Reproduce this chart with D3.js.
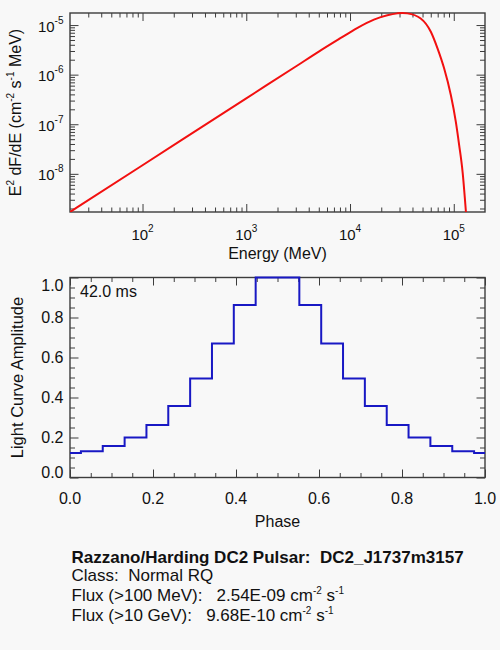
<!DOCTYPE html>
<html>
<head>
<meta charset="utf-8">
<script src="https://cdn.jsdelivr.net/npm/d3@7"></script>
<style>
  body { margin: 0; background: #f8f8f8; }
  svg { display: block; }
  text { font-family: "Liberation Sans", Arial, Helvetica, sans-serif; fill: #111; }
</style>
</head>
<body>
<svg id="chart" width="500" height="650"></svg>
<script>
// spectrum (energy in MeV, E^2 dF/dE)
var specEnergy = [20, 100, 1000, 3000, 5000, 8000, 11700, 17000, 22900, 28600, 32000, 35700,
                  48000, 60100, 69700, 80700, 93700, 104700, 112700, 121600, 131000];
var specFlux = [1.70e-9, 1.49e-8, 3.33e-7, 1.46e-6, 2.92e-6, 5.37e-6, 8.71e-6, 1.29e-5, 1.58e-5, 1.72e-5, 1.75e-5, 1.72e-5,
                1.36e-5, 7.33e-6, 3.39e-6, 1.34e-6, 3.88e-7, 1.12e-7, 3.81e-8, 1.10e-8, 1.70e-9];
var energyTicks = [100, 1000, 10000, 100000];
var fluxTicks = [1e-8, 1e-7, 1e-6, 1e-5];

// light curve histogram (bin edges in phase, amplitude per bin)
var phaseEdges = [0, 0.0263, 0.0789, 0.1316, 0.1842, 0.2368, 0.2895, 0.3421, 0.3947, 0.4474, 0.5,
                  0.5526, 0.6053, 0.6579, 0.7105, 0.7632, 0.8158, 0.8684, 0.9211, 0.9737, 1.0];
var amplitude = [0.123, 0.131, 0.158, 0.200, 0.263, 0.358, 0.495, 0.670, 0.862, 1.0,
                 1.0, 0.862, 0.670, 0.495, 0.358, 0.263, 0.200, 0.158, 0.131, 0.123];
var phaseTicks = [0, 0.2, 0.4, 0.6, 0.8, 1.0];
var ampTicks = [0, 0.2, 0.4, 0.6, 0.8, 1.0];

var infoLines = [
    {text: "Razzano/Harding DC2 Pulsar:  DC2_J1737m3157", bold: true},
    {text: "Class:  Normal RQ"},
    {text: "Flux (>100 MeV):   2.54E-09 cm", sup1: "-2", mid: " s", sup2: "-1"},
    {text: "Flux (>10 GeV):   9.68E-10 cm", sup1: "-2", mid: " s", sup2: "-1"}
];

var svg = d3.select("#chart");
var frameColor = "#3c3c3c";

// ---------- helpers ----------
function minorLog(lo, hi) {
    var out = [];
    for (var k = -10; k <= 6; k++) {
        for (var m = 2; m <= 9; m++) {
            var v = m * Math.pow(10, k);
            if (v > lo && v < hi) out.push(v);
        }
    }
    return out;
}

function ticks(axisFn, scale, values, size, tx, ty) {
    svg.append("g")
        .attr("transform", "translate(" + tx + "," + ty + ")")
        .call(axisFn(scale).tickValues(values).tickSize(size).tickFormat(""))
        .call(function(g) { g.select(".domain").remove(); })
        .selectAll("line").attr("stroke", frameColor).attr("stroke-width", 1);
}

function frameTicks(x, y, box, xMaj, xMin, yMaj, yMin) {
    ticks(d3.axisBottom, x, xMaj, -8, 0, box.bottom);
    ticks(d3.axisBottom, x, xMin, -4.5, 0, box.bottom);
    ticks(d3.axisTop, x, xMaj, -8, 0, box.top);
    ticks(d3.axisTop, x, xMin, -4.5, 0, box.top);
    ticks(d3.axisLeft, y, yMaj, -8.5, box.left, 0);
    ticks(d3.axisLeft, y, yMin, -5, box.left, 0);
    ticks(d3.axisRight, y, yMaj, -8.5, box.right, 0);
    ticks(d3.axisRight, y, yMin, -5, box.right, 0);
    svg.append("rect")
        .attr("x", box.left).attr("y", box.top)
        .attr("width", box.right - box.left).attr("height", box.bottom - box.top)
        .attr("fill", "none").attr("stroke", frameColor).attr("stroke-width", 1.4);
}

function expLabel(v) { return Math.round(Math.log10(v)); }

// ---------- top panel: spectrum ----------
var top1 = {left: 70, right: 485, top: 13, bottom: 212};

var xE = d3.scaleLog().domain([20, 2e5]).range([top1.left, top1.right]);
var yF = d3.scaleLog().domain([1.70e-9, 1.75e-5]).range([top1.bottom, top1.top]);

svg.append("clipPath").attr("id", "clipTop")
    .append("rect")
    .attr("x", top1.left).attr("y", top1.top - 1)
    .attr("width", top1.right - top1.left).attr("height", top1.bottom - top1.top + 1);

frameTicks(xE, yF, top1, energyTicks, minorLog(20, 2e5), fluxTicks, minorLog(1.7e-9, 1.75e-5));

var specLine = d3.line()
    .x(function(d, i) { return xE(specEnergy[i]); })
    .y(function(d) { return yF(d); })
    .curve(d3.curveMonotoneX);

svg.append("path")
    .datum(specFlux)
    .attr("clip-path", "url(#clipTop)")
    .attr("d", specLine)
    .attr("fill", "none")
    .attr("stroke", "#f21010")
    .attr("stroke-width", 2);

// x tick labels 10^n
energyTicks.forEach(function(v) {
    var t = svg.append("text")
        .attr("x", xE(v)).attr("y", 240)
        .attr("text-anchor", "middle")
        .attr("font-size", "15px");
    t.append("tspan").text("10");
    t.append("tspan").attr("dy", -8).attr("font-size", "10px").text(expLabel(v));
});

// y tick labels 10^n
fluxTicks.forEach(function(v) {
    var t = svg.append("text")
        .attr("x", 63.5).attr("y", yF(v) + 6.5)
        .attr("text-anchor", "end")
        .attr("font-size", "15px");
    t.append("tspan").text("10");
    t.append("tspan").attr("dy", -8).attr("font-size", "10px").text(expLabel(v));
});

svg.append("text")
    .attr("x", (top1.left + top1.right) / 2).attr("y", 259)
    .attr("text-anchor", "middle")
    .attr("font-size", "16px")
    .text("Energy (MeV)");

var yt = svg.append("text")
    .attr("transform", "translate(21," + ((top1.top + top1.bottom) / 2) + ") rotate(-90)")
    .attr("text-anchor", "middle")
    .attr("font-size", "16px")
    .attr("xml:space", "preserve");
yt.append("tspan").text("E");
yt.append("tspan").attr("dy", -7).attr("font-size", "10px").text("2");
yt.append("tspan").attr("dy", 7).text(" dF/dE (cm");
yt.append("tspan").attr("dy", -7).attr("font-size", "10px").text("-2");
yt.append("tspan").attr("dy", 7).text(" s");
yt.append("tspan").attr("dy", -7).attr("font-size", "10px").text("-1");
yt.append("tspan").attr("dy", 7).text(" MeV)");

// ---------- bottom panel: light curve ----------
var bot = {left: 70, right: 485, top: 277.5, bottom: 477.5};

var xP = d3.scaleLinear().domain([0, 1]).range([bot.left, bot.right]);
var yA = d3.scaleLinear().domain([0, 1]).range([bot.bottom, bot.top]);

var minor05 = d3.range(0, 21).map(function(i) { return i * 0.05; })
    .filter(function(v, i) { return i % 4 !== 0; });

frameTicks(xP, yA, bot, phaseTicks, minor05, ampTicks, minor05);

var stepPts = amplitude.map(function(a, i) { return [phaseEdges[i], a]; });
stepPts.push([phaseEdges[phaseEdges.length - 1], amplitude[amplitude.length - 1]]);

svg.append("path")
    .datum(stepPts)
    .attr("d", d3.line()
        .x(function(d) { return xP(d[0]); })
        .y(function(d) { return yA(d[1]); })
        .curve(d3.curveStepAfter))
    .attr("fill", "none")
    .attr("stroke", "#1818c4")
    .attr("stroke-width", 2);

phaseTicks.forEach(function(v) {
    svg.append("text")
        .attr("x", xP(v)).attr("y", 504)
        .attr("text-anchor", "middle")
        .attr("font-size", "16px")
        .text(v.toFixed(1));
});

ampTicks.forEach(function(v) {
    var ly = Math.min(Math.max(yA(v), bot.top + 8), bot.bottom - 5.5);
    svg.append("text")
        .attr("x", 63.5).attr("y", ly + 5.5)
        .attr("text-anchor", "end")
        .attr("font-size", "16px")
        .text(v.toFixed(1));
});

svg.append("text")
    .attr("x", 80).attr("y", 297)
    .attr("font-size", "16px")
    .text("42.0 ms");

svg.append("text")
    .attr("x", (bot.left + bot.right) / 2).attr("y", 527)
    .attr("text-anchor", "middle")
    .attr("font-size", "16px")
    .text("Phase");

svg.append("text")
    .attr("transform", "translate(23," + ((bot.top + bot.bottom) / 2) + ") rotate(-90)")
    .attr("text-anchor", "middle")
    .attr("font-size", "16.5px")
    .text("Light Curve Amplitude");

// ---------- info text ----------
var infoY = [563, 581, 601, 621];
infoLines.forEach(function(d, i) {
    var t = svg.append("text")
        .attr("x", 71.5).attr("y", infoY[i])
        .attr("font-size", "17px")
        .attr("font-weight", d.bold ? "bold" : "normal")
        .attr("xml:space", "preserve");
    t.append("tspan").text(d.text);
    if (d.sup1) {
        t.append("tspan").attr("dy", -7).attr("font-size", "10px").text(d.sup1);
        t.append("tspan").attr("dy", 7).text(d.mid);
        t.append("tspan").attr("dy", -7).attr("font-size", "10px").text(d.sup2);
    }
});
</script>
</body>
</html>
